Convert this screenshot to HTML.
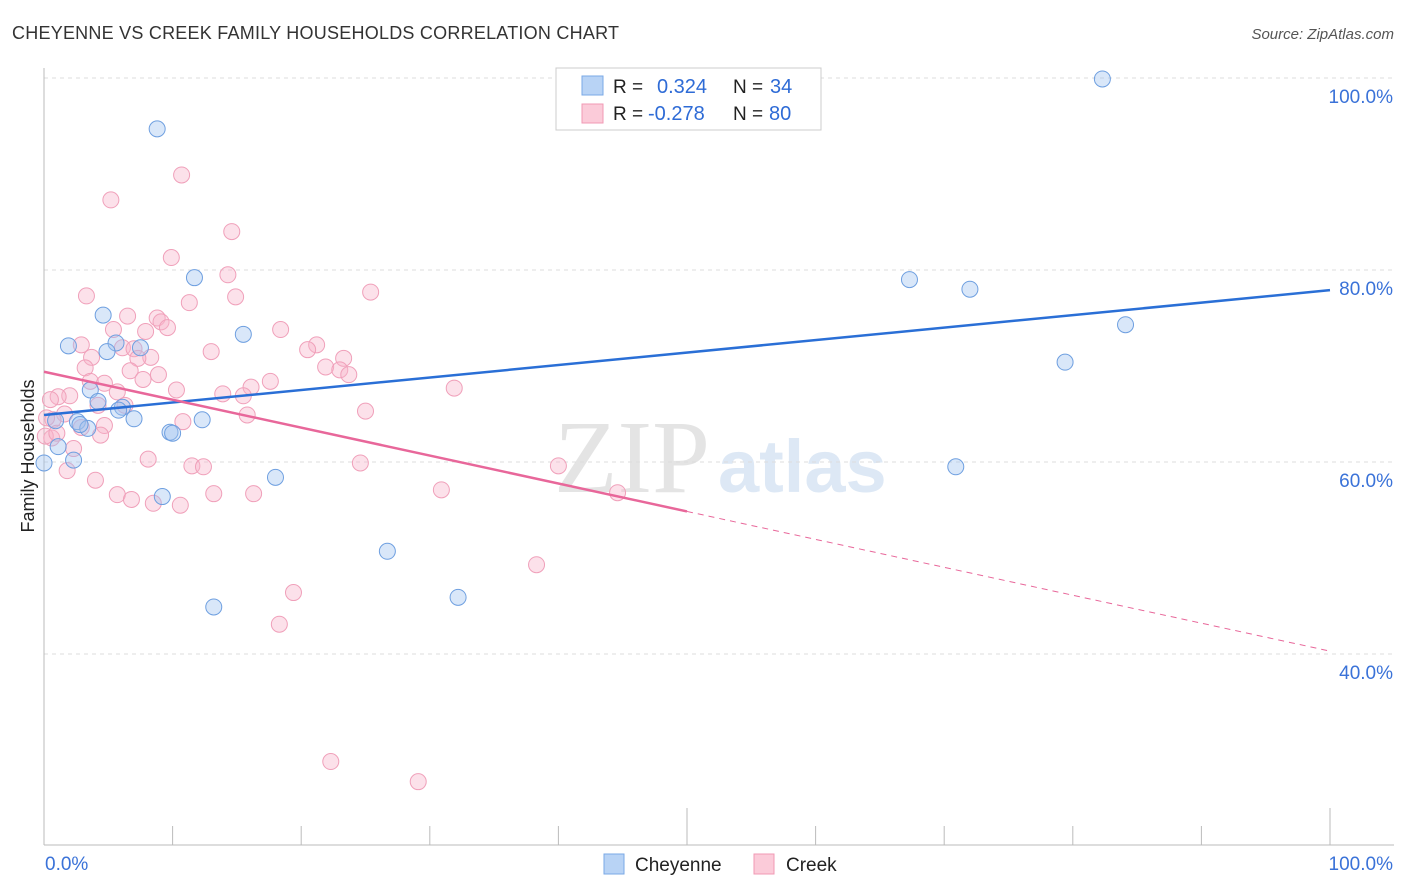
<!DOCTYPE html>
<html><head><meta charset="utf-8">
<style>
body{margin:0;background:#fff;font-family:"Liberation Sans",sans-serif;}
#c{position:relative;width:1406px;height:892px;}
svg{position:absolute;left:0;top:0;}
</style></head>
<body>
<div id="c">
<svg id="s" width="1406" height="892">
<text x="12" y="39" font-size="18" fill="#333" textLength="607">CHEYENNE VS CREEK FAMILY HOUSEHOLDS CORRELATION CHART</text>
<text x="1394" y="39" font-size="15" fill="#555" font-style="italic" text-anchor="end">Source: ZipAtlas.com</text>
<text x="34" y="456" font-size="18" fill="#222" text-anchor="middle" transform="rotate(-90 34 456)">Family Households</text>
<text x="554" y="492" font-size="104" fill="#e4e4e4" font-family="Liberation Serif">ZIP</text>
<text x="718" y="492" font-size="74" fill="#dde8f5" font-weight="bold">atlas</text>
<g id="grid"></g><g id="pts"></g><g id="trend"></g>
<g>
<rect x="556" y="68" width="265" height="62" fill="#fff" stroke="#ccc"/>
<rect x="582" y="76" width="21" height="19" fill="#b8d3f5" stroke="#7aa8e6"/>
<rect x="582" y="104" width="21" height="19" fill="#fbcbd9" stroke="#f09ab4"/>
<text x="613" y="93" font-size="19" fill="#222">R =</text>
<text x="657" y="93" font-size="20" fill="#2e6bd6">0.324</text>
<text x="733" y="93" font-size="19" fill="#222">N =</text>
<text x="770" y="93" font-size="20" fill="#2e6bd6">34</text>
<text x="613" y="120" font-size="19" fill="#222">R =</text>
<text x="648" y="120" font-size="20" fill="#2e6bd6">-0.278</text>
<text x="733" y="120" font-size="19" fill="#222">N =</text>
<text x="769" y="120" font-size="20" fill="#2e6bd6">80</text>
</g>
<g>
<rect x="604" y="854" width="20" height="20" fill="#b8d3f5" stroke="#7aa8e6"/>
<text x="635" y="871" font-size="19" fill="#222">Cheyenne</text>
<rect x="754" y="854" width="20" height="20" fill="#fbcbd9" stroke="#f09ab4"/>
<text x="786" y="871" font-size="19" fill="#222">Creek</text>
</g>
</svg>
</div>
<script>
const yTicks=[100,80,60,40];
const yTickLabels=["100.0%","80.0%","60.0%","40.0%"];
const xTicks=[0,10,20,30,40,50,60,70,80,90,100];
const cheyenneX=[82.3,8.8,11.7,67.3,72.0,4.6,84.1,15.5,1.9,7.5,5.6,4.9,79.4,3.6,4.2,6.1,5.8,7.0,12.3,0.9,2.6,3.4,9.8,10.0,1.1,2.3,70.9,0,18.0,9.2,26.7,13.2,32.2,2.8];
const cheyenneY=[99.9,94.7,79.2,79.0,78.0,75.3,74.3,73.3,72.1,71.9,72.4,71.5,70.4,67.5,66.3,65.7,65.4,64.5,64.4,64.3,64.2,63.5,63.1,63.0,61.6,60.2,59.5,59.9,58.4,56.4,50.7,44.9,45.9,63.9];
const creekX=[10.7,5.2,14.6,9.9,14.3,3.3,14.9,25.4,11.3,6.5,8.8,9.1,9.6,5.4,7.9,18.4,21.2,2.9,6.1,7.0,13.0,20.5,3.7,8.3,23.3,7.3,21.9,3.2,6.7,23.0,23.7,8.9,3.6,4.7,17.6,7.7,10.3,16.1,5.7,31.9,2.0,13.9,1.1,15.5,0.5,4.2,6.3,25.0,15.8,1.6,10.8,4.7,0.7,2.9,4.4,0.6,2.3,8.1,11.5,12.4,24.6,40.0,1.8,4.0,5.7,6.8,13.2,16.3,30.9,44.6,8.5,10.6,38.3,19.4,18.3,22.3,29.1,0.1,0.2,1.0];
const creekY=[89.9,87.3,84.0,81.3,79.5,77.3,77.2,77.7,76.6,75.2,75.0,74.6,74.0,73.8,73.6,73.8,72.2,72.2,71.9,71.8,71.5,71.7,70.9,70.9,70.8,70.8,69.9,69.8,69.5,69.6,69.1,69.1,68.4,68.2,68.4,68.6,67.5,67.8,67.3,67.7,66.9,67.1,66.8,66.9,66.5,65.9,65.9,65.3,64.9,65.0,64.2,63.8,64.4,63.6,62.8,62.5,61.4,60.3,59.6,59.5,59.9,59.6,59.1,58.1,56.6,56.1,56.7,56.7,57.1,56.8,55.7,55.5,49.3,46.4,43.1,28.8,26.7,62.7,64.6,63.0];
const cheyenneTrend=[64.9,77.9];
const creekTrend=[69.4,40.3];
const creekSolidEnd=50;
const NS="http://www.w3.org/2000/svg";
const X=v=>44+v*12.86, Y=v=>78+(100-v)*9.6;
function mk(t,a,p){const e=document.createElementNS(NS,t);for(const k in a)e.setAttribute(k,a[k]);p.appendChild(e);return e;}
const grid=document.getElementById('grid'),pts=document.getElementById('pts'),tr=document.getElementById('trend');
yTicks.forEach((v,i)=>{
 const l=mk('line',{x1:44,x2:1394,y1:Y(v),y2:Y(v),stroke:'#ddd','stroke-dasharray':'4 4'},grid);
 
 
 const t=mk('text',{x:1393,y:Y(v)+25,'font-size':19,fill:'#3a72d8','text-anchor':'end'},grid);
 t.textContent=yTickLabels[i];
 
 
});
mk('line',{x1:44,x2:44,y1:68,y2:845,stroke:'#bbb'},grid);
mk('line',{x1:44,x2:1394,y1:845,y2:845,stroke:'#bbb'},grid);
xTicks.forEach(v=>{
 const l=mk('line',{x1:X(v),x2:X(v),y1:v==50||v==100?808:826,y2:845,stroke:'#bbb'},grid);
 
 
});
let t0=mk('text',{x:45,y:870,'font-size':19,fill:'#3a72d8'},grid);t0.textContent='0.0%';


let t1=mk('text',{x:1393,y:870,'font-size':19,fill:'#3a72d8','text-anchor':'end'},grid);t1.textContent='100.0%';


creekX.forEach((x,i)=>{
 const c=mk('circle',{cx:X(x),cy:Y(creekY[i]),r:8,fill:'rgba(248,180,202,0.4)',stroke:'#f0a0ba','stroke-width':1},pts);
 
 
});
cheyenneX.forEach((x,i)=>{
 const c=mk('circle',{cx:X(x),cy:Y(cheyenneY[i]),r:8,fill:'rgba(160,195,240,0.4)',stroke:'#6e9fe0','stroke-width':1},pts);
 
 
});
const bl=mk('line',{x1:X(0),y1:Y(cheyenneTrend[0]),x2:X(100),y2:Y(cheyenneTrend[1]),stroke:'#2a6fd6','stroke-width':2.5},tr);


const midY=creekTrend[0]+(creekTrend[1]-creekTrend[0])*creekSolidEnd/100;
const pl=mk('line',{x1:X(0),y1:Y(creekTrend[0]),x2:X(creekSolidEnd),y2:Y(midY),stroke:'#e8679a','stroke-width':2.5},tr);


const pd=mk('line',{x1:X(creekSolidEnd),y1:Y(midY),x2:X(100),y2:Y(creekTrend[1]),stroke:'#e8679a','stroke-width':1,'stroke-dasharray':'6 5'},tr);


</script>
</body></html>
